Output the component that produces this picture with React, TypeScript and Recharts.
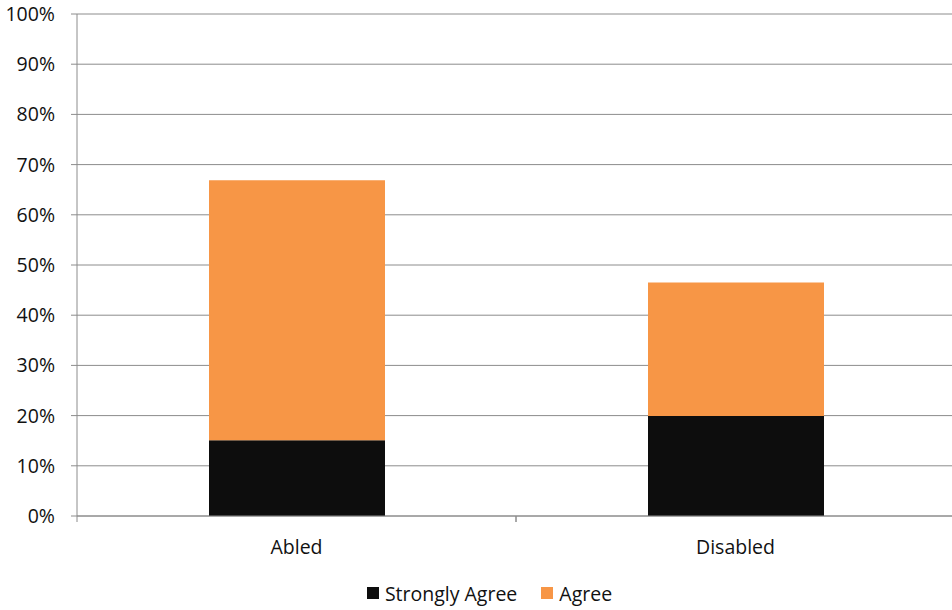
import { BarChart, Bar, XAxis, YAxis, CartesianGrid, Legend } from "recharts";

const categories = ["Abled", "Disabled"];
const stronglyAgree = [15.1, 19.9];
const agree = [51.8, 26.6];
const yTicks = [0, 10, 20, 30, 40, 50, 60, 70, 80, 90, 100];

const SERIES = [
  { key: "stronglyAgree", name: "Strongly Agree", color: "#0d0d0d" },
  { key: "agree", name: "Agree", color: "#f79646" },
];

const AXIS_GRAY = "#8c8c8c";
const FONT = "'Open Sans', sans-serif";
const FONT_SIZE = 19.5;

const data = categories.map((c, i) => ({
  name: c,
  stronglyAgree: stronglyAgree[i],
  agree: agree[i],
}));

// band-edge tick marks plus the category label, like the spreadsheet axis
function CategoryTick(props: any) {
  const { x, y, payload } = props;
  const half = payload?.offset ?? 0;
  return (
    <g>
      <line x1={x - half} x2={x - half} y1={y} y2={y + 6} stroke={AXIS_GRAY} />
      <line x1={x + half} x2={x + half} y1={y} y2={y + 6} stroke={AXIS_GRAY} />
      <text x={x} y={y + 38} textAnchor="middle" fontSize={FONT_SIZE} fill="#111" fontFamily={FONT}>
        {payload.value}
      </text>
    </g>
  );
}

function LegendContent() {
  return (
    <div
      style={{
        display: "flex",
        justifyContent: "center",
        alignItems: "center",
        fontFamily: FONT,
        fontSize: FONT_SIZE,
        color: "#111",
        height: 34,
        paddingLeft: 24,
      }}
    >
      {SERIES.map((s, i) => (
        <span
          key={s.key}
          style={{ display: "flex", alignItems: "center", marginLeft: i === 0 ? 0 : 24 }}
        >
          <span style={{ width: 12, height: 12, background: s.color, marginRight: 6, display: "inline-block" }} />
          {s.name}
        </span>
      ))}
    </div>
  );
}

export default function App() {
  return (
    <div
      style={{
        position: "absolute",
        left: 0,
        top: 0,
        width: 952,
        height: 610,
        overflow: "hidden",
        background: "#fff",
        fontFamily: FONT,
      }}
    >
      <BarChart
        width={960}
        height={610}
        data={data}
        margin={{ top: 14, right: 5, bottom: 0, left: 0 }}
      >
        <CartesianGrid vertical={false} stroke={AXIS_GRAY} />
        <XAxis
          dataKey="name"
          height={60}
          tickSize={0}
          tickMargin={0}
          tickLine={false}
          axisLine={{ stroke: AXIS_GRAY }}
          tick={<CategoryTick />}
          interval={0}
        />
        <YAxis
          type="number"
          domain={[0, 100]}
          ticks={yTicks}
          width={77}
          tickSize={6}
          tickMargin={16}
          tickFormatter={(v: number) => `${v}%`}
          tick={{ fontSize: FONT_SIZE, fill: "#111", fontFamily: FONT }}
          axisLine={{ stroke: AXIS_GRAY }}
          tickLine={{ stroke: AXIS_GRAY }}
          interval={0}
        />
        <Legend verticalAlign="bottom" height={34} content={<LegendContent />} />
        {SERIES.map((s) => (
          <Bar
            key={s.key}
            dataKey={s.key}
            name={s.name}
            stackId="a"
            fill={s.color}
            barSize={176}
            isAnimationActive={false}
          />
        ))}
      </BarChart>
    </div>
  );
}
